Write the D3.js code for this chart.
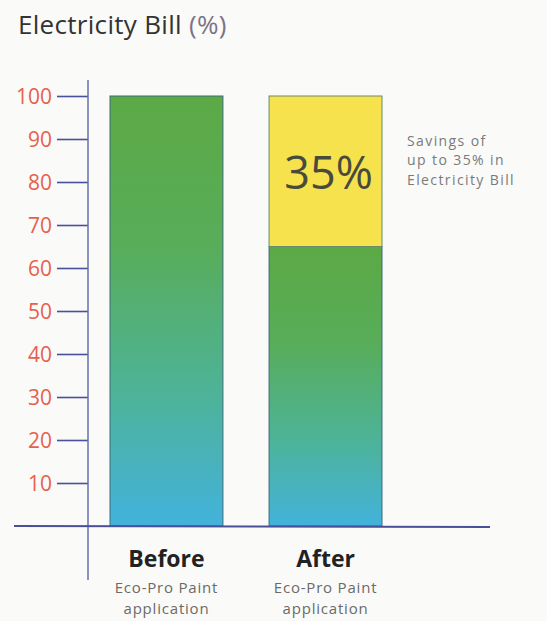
<!DOCTYPE html>
<html>
<head>
<meta charset="utf-8">
<script src="https://cdn.jsdelivr.net/npm/d3@7"></script>
<style>
  html, body { margin: 0; padding: 0; background: #fafaf8; }
  svg { display: block; }
  text { font-family: "Open Sans", "Noto Sans", sans-serif; }
</style>
</head>
<body>
<svg id="chart" width="547" height="621"></svg>
<script>
// ---- data ----
const categories = ["Before", "After"];
const subLabels = ["Eco-Pro Paint", "application"];
const baseValues = [100, 65];     // green/blue part
const savingValues = [0, 35];     // yellow part
const yTicks = [10, 20, 30, 40, 50, 60, 70, 80, 90, 100];
const titleMain = "Electricity Bill ";
const titleUnit = "(%)";
const savingLabel = "35%";
const noteLines = ["Savings of", "up to 35% in", "Electricity Bill"];

// ---- layout ----
const svg = d3.select("#chart");
const axisX = 88;
const y = d3.scaleLinear().domain([0, 100]).range([526, 96]);
const x = d3.scaleBand().domain(categories).range([110, 382]).paddingInner(0.29).paddingOuter(0);

const defs = svg.append("defs");
const grad = defs.append("linearGradient").attr("id", "gb")
  .attr("x1", 0).attr("y1", 0).attr("x2", 0).attr("y2", 1);
grad.append("stop").attr("offset", "0%").attr("stop-color", "#5ca945");
grad.append("stop").attr("offset", "35%").attr("stop-color", "#58ad5a");
grad.append("stop").attr("offset", "70%").attr("stop-color", "#4db39a");
grad.append("stop").attr("offset", "100%").attr("stop-color", "#43b2dc");

// title
const t = svg.append("text").attr("x", 18).attr("y", 34)
  .attr("font-size", 26).attr("fill", "#333").attr("letter-spacing", 0.3);
t.append("tspan").text(titleMain);
t.append("tspan").attr("fill", "#7a7488").text(titleUnit);

// bars base
svg.selectAll("rect.base").data(categories).join("rect")
  .attr("class", "base")
  .attr("x", d => x(d))
  .attr("width", x.bandwidth())
  .attr("y", (d, i) => y(baseValues[i]))
  .attr("height", (d, i) => y(0) - y(baseValues[i]))
  .attr("fill", "url(#gb)")
  .attr("stroke", "#3d6a7a").attr("stroke-width", 1);

// saving segment
svg.selectAll("rect.save").data(categories.filter((d, i) => savingValues[i] > 0)).join("rect")
  .attr("class", "save")
  .attr("x", d => x(d))
  .attr("width", x.bandwidth())
  .attr("y", d => { const i = categories.indexOf(d); return y(baseValues[i] + savingValues[i]); })
  .attr("height", d => { const i = categories.indexOf(d); return y(baseValues[i]) - y(baseValues[i] + savingValues[i]); })
  .attr("fill", "#f6e24c")
  .attr("stroke", "#6a8a6a").attr("stroke-width", 1);

// saving label
svg.append("text")
  .attr("x", x("After") + x.bandwidth() / 2 + 3)
  .attr("y", y(baseValues[1] + savingValues[1] / 2) + 18)
  .attr("text-anchor", "middle")
  .attr("font-size", 45).attr("fill", "#4a4a3c")
  .text(savingLabel);

// note
svg.append("g").selectAll("text").data(noteLines).join("text")
  .attr("x", 407).attr("y", (d, i) => 145.5 + i * 19.5)
  .attr("font-size", 14).attr("fill", "#7a7a7a")
  .attr("letter-spacing", 1.4)
  .text(d => d);

// y axis
const yAxis = d3.axisLeft(y).tickValues(yTicks).tickSize(31).tickPadding(5);
const gAxis = svg.append("g").attr("transform", `translate(${axisX},0)`).call(yAxis);
gAxis.select(".domain").remove();
gAxis.selectAll(".tick line").attr("stroke", "#4a4f9a").attr("stroke-width", 1.6);
gAxis.selectAll(".tick text").attr("font-size", 21).attr("fill", "#e6604e")
  .attr("font-family", "'Open Sans', sans-serif").attr("dy", "0.36em");

// vertical axis line
svg.append("line").attr("x1", axisX).attr("x2", axisX)
  .attr("y1", 80).attr("y2", 580)
  .attr("stroke", "#6a6fb0").attr("stroke-width", 1.5);

// baseline
svg.append("line").attr("x1", 14).attr("x2", 490)
  .attr("y1", y(0)).attr("y2", y(0) + 1)
  .attr("stroke", "#4a4f9a").attr("stroke-width", 1.8);

// category labels
const cat = svg.append("g").selectAll("g").data(categories).join("g")
  .attr("transform", d => `translate(${x(d) + x.bandwidth() / 2},0)`);
cat.append("text").attr("y", 567).attr("text-anchor", "middle")
  .attr("font-size", 23).attr("font-weight", "bold").attr("fill", "#222")
  .text(d => d);
cat.selectAll("text.sub").data(subLabels).join("text").attr("class", "sub")
  .attr("y", (d, i) => 593 + i * 21).attr("text-anchor", "middle")
  .attr("font-size", 15).attr("fill", "#6a6a6a").attr("letter-spacing", 0.8)
  .text(d => d);
</script>
</body>
</html>
